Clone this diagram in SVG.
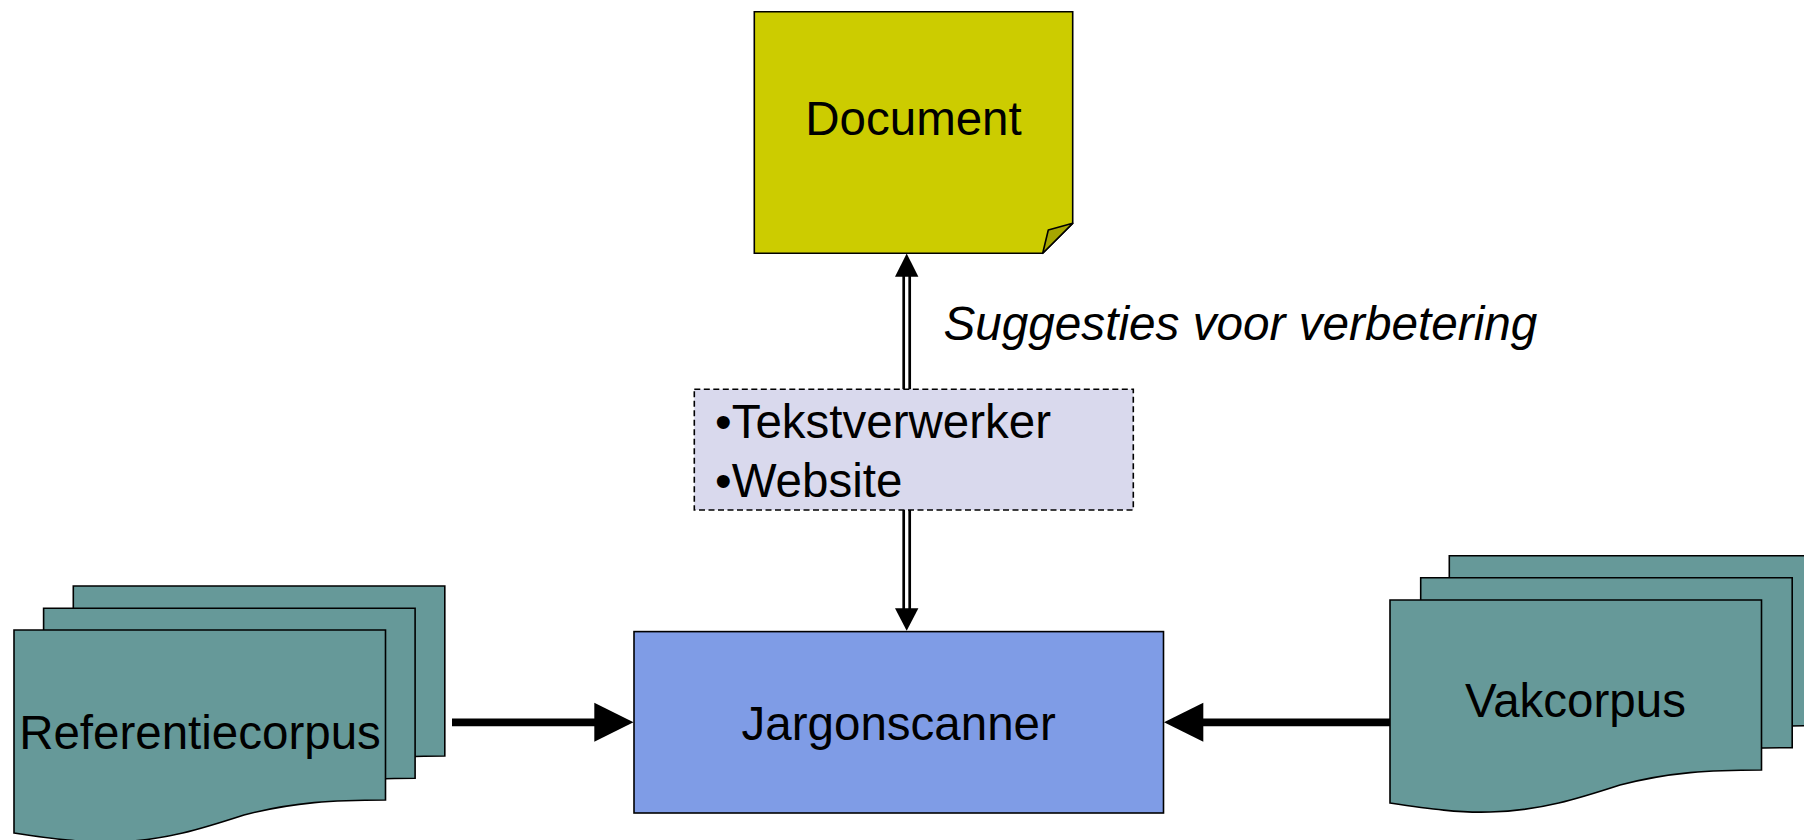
<svg xmlns="http://www.w3.org/2000/svg" xmlns:xlink="http://www.w3.org/1999/xlink" width="1804" height="840" viewBox="0 0 1804 840">
  <style>
    .lbl { font-family: "Liberation Sans", Arial, sans-serif; font-size: 47.5px; fill: #000; }
    .doc { fill: #669999; stroke: #000; stroke-width: 1.6; }
    .ln { stroke: #000; fill: none; }
    .head { fill: #000; }
  </style>
  <defs>
    <path id="docshape" d="M0,0 H371.5 V170 C320,170 280,172 230,185 C190,198 150,211 100,212 C70,213 40,209 0,203 Z"/>
  </defs>
  <rect width="1804" height="840" fill="#ffffff"/>

  <g id="connectors">
    <!-- Referentiecorpus -> Jargonscanner -->
    <line class="ln" x1="452" y1="722.3" x2="596" y2="722.3" stroke-width="7.7"/>
    <polygon class="head" points="594.3,702.8 633.5,722.3 594.3,741.8"/>
    <!-- Vakcorpus -> Jargonscanner -->
    <line class="ln" x1="1201" y1="722.3" x2="1390.5" y2="722.3" stroke-width="7.7"/>
    <polygon class="head" points="1203.3,702.8 1164,722.3 1203.3,741.8"/>
    <!-- middle box -> Document (double line) -->
    <line class="ln" x1="903.7" y1="275" x2="903.7" y2="389.5" stroke-width="2.7"/>
    <line class="ln" x1="909.7" y1="275" x2="909.7" y2="389.5" stroke-width="2.7"/>
    <polygon class="head" points="895,276.7 906.7,253.5 918.4,276.7"/>
    <!-- middle box -> Jargonscanner (double line) -->
    <line class="ln" x1="903.7" y1="510" x2="903.7" y2="610" stroke-width="2.7"/>
    <line class="ln" x1="909.7" y1="510" x2="909.7" y2="610" stroke-width="2.7"/>
    <polygon class="head" points="895,608.3 906.7,630.7 918.4,608.3"/>
  </g>

  <g id="document">
    <path d="M754.3,11.7 H1072.7 V223.3 L1042.7,253.3 H754.3 Z" fill="#CCCC00" stroke="#000" stroke-width="1.6"/>
    <path d="M1042.7,253.3 L1048.3,230 L1072.7,223.3 Z" fill="#A6A600" stroke="#000" stroke-width="1.6" stroke-linejoin="round"/>
    <text class="lbl" x="913.5" y="135" text-anchor="middle">Document</text>
  </g>

  <g id="label-suggesties">
    <text class="lbl" x="943.4" y="340" font-style="italic" textLength="594" lengthAdjust="spacingAndGlyphs">Suggesties voor verbetering</text>
  </g>

  <g id="interface">
    <rect x="694.3" y="389.3" width="439" height="120.7" fill="#D9D9ED" stroke="#000" stroke-width="1.6" stroke-dasharray="6 3.5"/>
    <text class="lbl" x="715" y="438.3">•Tekstverwerker</text>
    <text class="lbl" x="715" y="496.7">•Website</text>
  </g>

  <g id="jargonscanner">
    <rect x="634" y="631.6" width="529.5" height="181.4" fill="#7F9CE6" stroke="#000" stroke-width="1.6"/>
    <text class="lbl" x="898.7" y="739.5" text-anchor="middle">Jargonscanner</text>
  </g>

  <g id="referentiecorpus">
    <use xlink:href="#docshape" class="doc" transform="translate(73.3,586)"/>
    <use xlink:href="#docshape" class="doc" transform="translate(43.6,608.3)"/>
    <use xlink:href="#docshape" class="doc" transform="translate(14,630)"/>
    <text class="lbl" x="200" y="748.5" text-anchor="middle">Referentiecorpus</text>
  </g>

  <g id="vakcorpus">
    <use xlink:href="#docshape" class="doc" transform="translate(1449.3,555.7)"/>
    <use xlink:href="#docshape" class="doc" transform="translate(1420.7,577.7)"/>
    <use xlink:href="#docshape" class="doc" transform="translate(1390,600)"/>
    <text class="lbl" x="1575.5" y="717" text-anchor="middle">Vakcorpus</text>
  </g>
</svg>
